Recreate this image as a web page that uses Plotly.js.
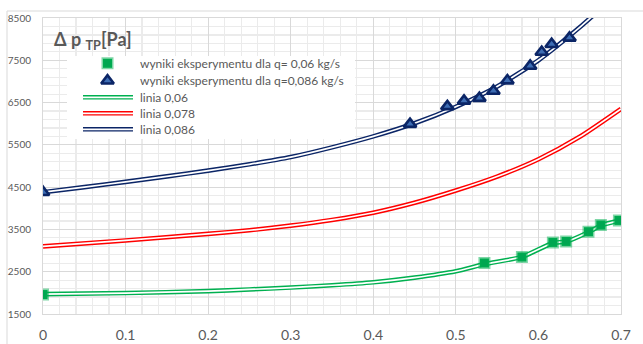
<!DOCTYPE html>
<html>
<head>
<meta charset="utf-8">
<script src="https://cdn.plot.ly/plotly-3.0.1.min.js"></script>
<style>html,body{margin:0;padding:0;background:#fff}#chart{width:643px;height:344px}</style>
</head>
<body>
<div id="chart"></div>
<script>
// ---------- data ----------
const xTickVals = [0, 0.1, 0.2, 0.3, 0.4, 0.5, 0.6, 0.7];
const xTickText = ['0', '0.1', '0.2', '0.3', '0.4', '0.5', '0.6', '0.7'];
const yTickVals = [1500, 2500, 3500, 4500, 5500, 6500, 7500, 8500];

// model lines
const line006X = [0, 0.1, 0.2, 0.25, 0.3, 0.35, 0.4, 0.45, 0.5, 0.535, 0.58, 0.6175, 0.634, 0.661, 0.676, 0.6975];
const line006Y = [1970, 1995, 2040, 2080, 2125, 2180, 2250, 2360, 2510, 2680, 2850, 3180, 3215, 3440, 3595, 3710];
const line0078X = [0, 0.1, 0.2, 0.25, 0.3, 0.35, 0.4, 0.45, 0.5, 0.55, 0.6, 0.65, 0.7];
const line0078Y = [3100, 3240, 3395, 3480, 3590, 3725, 3895, 4130, 4420, 4750, 5160, 5690, 6350];
const line0086X = [0, 0.05, 0.1, 0.15, 0.2, 0.25, 0.3, 0.35, 0.4, 0.45, 0.5, 0.55, 0.6, 0.65, 0.68];
const line0086Y = [4380, 4500, 4625, 4755, 4890, 5040, 5210, 5440, 5700, 6010, 6400, 6880, 7500, 8280, 8800];

// experimental points
const exp006X = [0, 0.5346, 0.580, 0.6175, 0.6336, 0.6606, 0.6756, 0.6975];
const exp006Y = [1960, 2706, 2848, 3193, 3216, 3446, 3604, 3713];
const exp0086X = [0, 0.4445, 0.4897, 0.5099, 0.5285, 0.5455, 0.5624, 0.590, 0.604, 0.616, 0.6376];
const exp0086Y = [4380, 5990, 6410, 6540, 6605, 6775, 7020, 7365, 7695, 7880, 8030];

const legendLabels = [
  'wyniki eksperymentu dla q= 0,06 kg/s',
  'wyniki eksperymentu dla q=0,086 kg/s',
  'linia 0,06',
  'linia 0,078',
  'linia 0,086'
];

// ---------- styles ----------
const GREEN = '#00b050', RED = '#ff0000', NAVY = '#0b2566';
const GRAY = '#595959';
const FONT = 'Lato, "Open Sans", sans-serif';
const greenMarker = {symbol: 'square', size: 9, color: '#00a651', line: {color: 'rgba(0,176,80,0.5)', width: 3}};
const navyMarker = {symbol: 'triangle-up', size: 11, color: '#3d6db4', line: {color: NAVY, width: 2.6}};

function doubleLine(x, y, color, xa, ya, shape) {
  return [
    {x, y, xaxis: xa, yaxis: ya, mode: 'lines', line: {color, width: 4.6, shape: shape || 'spline', smoothing: 0.6}, hoverinfo: 'skip', showlegend: false},
    {x, y, xaxis: xa, yaxis: ya, mode: 'lines', line: {color: '#ffffff', width: 1.7, shape: shape || 'spline', smoothing: 0.6}, hoverinfo: 'skip', showlegend: false}
  ];
}

const traces = [];
traces.push(...doubleLine(line0086X, line0086Y, NAVY, 'x', 'y'));
traces.push(...doubleLine(line0078X, line0078Y, RED, 'x', 'y'));
traces.push(...doubleLine(line006X, line006Y, GREEN, 'x', 'y'));
traces.push({x: exp006X, y: exp006Y, mode: 'markers', marker: greenMarker, showlegend: false, name: legendLabels[0]});
traces.push({x: exp0086X, y: exp0086Y, mode: 'markers', marker: navyMarker, showlegend: false, name: legendLabels[1]});

// ---------- custom legend (pixel-coordinate overlay axes) ----------
const legBox = {x0: 67, x1: 355, y0: 56, y1: 139};
const legRows = [63.3, 80.7, 97.3, 113.3, 129.3];
const legSymX = 107.5, legLineX0 = 83, legLineX1 = 133, legTextX = 138;
traces.push({x: [legBox.x0, legBox.x1, legBox.x1, legBox.x0, legBox.x0], y: [legBox.y0, legBox.y0, legBox.y1, legBox.y1, legBox.y0],
  xaxis: 'x2', yaxis: 'y2', mode: 'lines', fill: 'toself', fillcolor: '#ffffff', line: {width: 0, color: '#ffffff'}, hoverinfo: 'skip', showlegend: false});
traces.push({x: [legSymX], y: [legRows[0]], xaxis: 'x2', yaxis: 'y2', mode: 'markers', marker: greenMarker, hoverinfo: 'skip', showlegend: false});
traces.push({x: [legSymX], y: [legRows[1]], xaxis: 'x2', yaxis: 'y2', mode: 'markers', marker: navyMarker, hoverinfo: 'skip', showlegend: false});
[GREEN, RED, NAVY].forEach((c, i) => {
  traces.push(...doubleLine([legLineX0, legLineX1], [legRows[i + 2], legRows[i + 2]], c, 'x2', 'y2', 'linear'));
});

const annotations = legendLabels.map((t, i) => ({
  xref: 'x2', yref: 'y2', x: legTextX, y: legRows[i], text: t, showarrow: false,
  xanchor: 'left', yanchor: 'middle', font: {family: FONT, size: 12, color: GRAY}
}));
annotations.push({xref: 'x2', yref: 'y2', x: 52, y: 40, text: 'Δ p <sub>TP</sub>[Pa]', showarrow: false,
  xanchor: 'left', yanchor: 'middle', font: {family: FONT, size: 18, color: GRAY, weight: 'bold'}});
annotations.push({xref: 'x2', yref: 'y2', x: 595, y: 328, text: 'α', showarrow: false,
  xanchor: 'center', yanchor: 'middle', font: {family: FONT, size: 21, color: GRAY, weight: 'bold'}});

const layout = {
  width: 643, height: 344,
  margin: {l: 43, r: 22, t: 18, b: 30, pad: 0},
  paper_bgcolor: '#ffffff', plot_bgcolor: '#ffffff',
  showlegend: false,
  font: {family: FONT, color: GRAY},
  xaxis: {
    range: [0, 0.7], tickvals: xTickVals, ticktext: xTickText, ticks: '',
    showgrid: true, gridcolor: '#d9d9d9', gridwidth: 1,
    minor: {dtick: 0.02, tick0: 0, showgrid: true, gridcolor: '#ebebeb', gridwidth: 1.2},
    showline: true, linecolor: '#d9d9d9', mirror: true, zeroline: false,
    tickfont: {family: FONT, size: 14, color: GRAY}, ticklabelstandoff: 8, fixedrange: true
  },
  yaxis: {
    range: [1500, 8500], tickvals: yTickVals, ticks: '',
    showgrid: true, gridcolor: '#d9d9d9', gridwidth: 1,
    minor: {dtick: 200, tick0: 1500, showgrid: true, gridcolor: '#ebebeb', gridwidth: 1.2},
    showline: true, linecolor: '#d9d9d9', mirror: true, zeroline: false,
    tickfont: {family: FONT, size: 10, color: GRAY}, ticklabelstandoff: 9, fixedrange: true
  },
  xaxis2: {overlaying: 'x', range: [43, 621], visible: false, fixedrange: true},
  yaxis2: {overlaying: 'y', range: [314, 18], visible: false, fixedrange: true},
  annotations,
  shapes: [{type: 'rect', xref: 'paper', yref: 'paper', x0: (7 - 43) / 578, x1: 1.2, y0: -0.3, y1: (314 - 11) / 296,
    line: {color: '#d9d9d9', width: 1}, fillcolor: 'rgba(0,0,0,0)', layer: 'below'}]
};

Plotly.newPlot('chart', traces, layout, {staticPlot: true, displayModeBar: false});
</script>
</body>
</html>
